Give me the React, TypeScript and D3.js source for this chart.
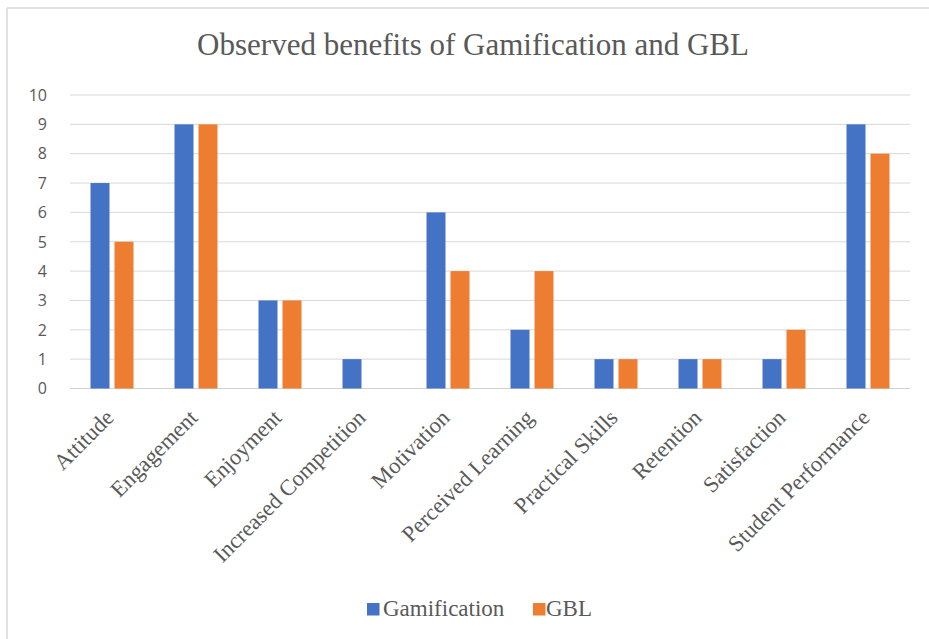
import React from "react";
import * as d3 from "d3";

const categories = [
  "Attitude",
  "Engagement",
  "Enjoyment",
  "Increased Competition",
  "Motivation",
  "Perceived Learning",
  "Practical Skills",
  "Retention",
  "Satisfaction",
  "Student Performance",
];
const seriesNames = ["Gamification", "GBL"];
const gamification = [7, 9, 3, 1, 6, 2, 1, 1, 1, 9];
const gbl = [5, 9, 3, 0, 4, 4, 1, 1, 2, 8];
const yTicks = [0, 1, 2, 3, 4, 5, 6, 7, 8, 9, 10];
const colors = ["#4472C4", "#ED7D31"];
const title = "Observed benefits of Gamification and GBL";

export default function App() {
  const W = 929;
  const H = 639;
  const x = d3.scaleBand<string>().domain(categories).range([70, 910]).paddingInner(0).paddingOuter(0);
  const bw = x.bandwidth();
  const xs = d3
    .scaleBand<string>()
    .domain(seriesNames)
    .range([bw / 2 - 21.5, bw / 2 + 21.5])
    .paddingInner(5 / 24)
    .paddingOuter(0);
  const y = d3.scaleLinear().domain([0, 10]).range([388.5, 95]);
  const values = [gamification, gbl];
  const serif = "'Liberation Serif', 'Times New Roman', serif";
  const sans = "'Open Sans', 'Liberation Sans', sans-serif";
  const textCol = "#595959";

  return (
    <svg
      width={W}
      height={H}
      style={{ position: "absolute", left: 0, top: 0, background: "#fff" }}
    >
      <rect x={0} y={0} width={W} height={H} fill="#fff" />
      <line x1={7} y1={8} x2={W} y2={8} stroke="#d9d9d9" strokeWidth={1.5} />
      <line x1={7} y1={8} x2={7} y2={H} stroke="#d9d9d9" strokeWidth={1.5} />
      <text x={473} y={55} textAnchor="middle" fontFamily={serif} fontSize={31} fill={textCol}>
        {title}
      </text>
      {yTicks.map((t) => (
        <g key={t}>
          <line x1={70} x2={910} y1={y(t)} y2={y(t)} stroke={t === 0 ? "#d0d0d0" : "#d9d9d9"} strokeWidth={1} />
          <text x={47} y={y(t)} dy="0.36em" textAnchor="end" fontFamily={sans} fontSize={16} fill={textCol}>
            {t}
          </text>
        </g>
      ))}
      {categories.map((c, i) => (
        <g key={c} transform={`translate(${x(c)},0)`}>
          {seriesNames.map((s, j) =>
            values[j][i] > 0 ? (
              <rect
                key={s}
                x={xs(s)}
                width={xs.bandwidth()}
                y={y(values[j][i])}
                height={y(0) - y(values[j][i])}
                fill={colors[j]}
              />
            ) : null
          )}
        </g>
      ))}
      {categories.map((c) => {
        const cx = (x(c) as number) + bw / 2 + 3;
        return (
          <text
            key={c}
            transform={`translate(${cx},419) rotate(-45)`}
            textAnchor="end"
            fontFamily={serif}
            fontSize={22.5}
            fill={textCol}
          >
            {c}
          </text>
        );
      })}
      <g>
        <rect x={367} y={603} width={12.5} height={12.5} fill={colors[0]} />
        <text x={383} y={616} fontFamily={serif} fontSize={23} fill={textCol}>
          {seriesNames[0]}
        </text>
        <rect x={533} y={603} width={12.5} height={12.5} fill={colors[1]} />
        <text x={546} y={616} fontFamily={serif} fontSize={23} fill={textCol}>
          {seriesNames[1]}
        </text>
      </g>
    </svg>
  );
}
